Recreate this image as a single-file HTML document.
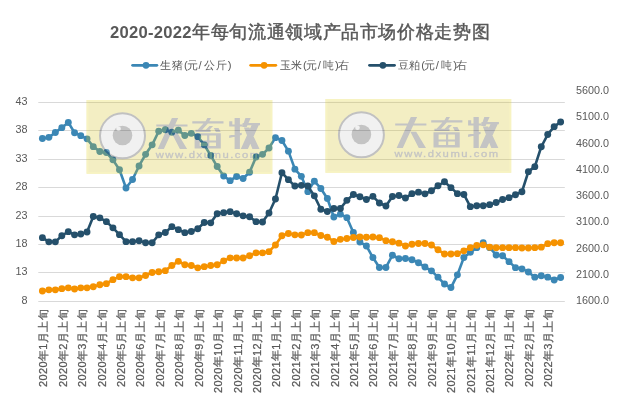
<!DOCTYPE html>
<html><head><meta charset="utf-8"><style>
html,body{margin:0;padding:0;background:#fff;width:619px;height:404px;overflow:hidden}
svg{display:block;will-change:transform;font-family:"Liberation Sans",sans-serif}
.ax{font-size:10.8px;fill:#595959}
.xl{font-size:11px;fill:#595959;stroke:#595959;stroke-width:0.25px}
.leg{font-size:11.3px;fill:#595959}
.title{font-size:18.4px;font-weight:bold;fill:#595959}
</style></head><body>
<svg width="619" height="404" viewBox="0 0 619 404">
<defs><filter id="soft" x="-5%" y="-5%" width="110%" height="110%"><feGaussianBlur stdDeviation="0.6"/></filter></defs><rect width="619" height="404" fill="#fff"/>
<line x1="38.3" x2="564.8" y1="102.50" y2="102.50" stroke="#D9D9D9" stroke-width="1"/><line x1="38.3" x2="564.8" y1="130.50" y2="130.50" stroke="#D9D9D9" stroke-width="1"/><line x1="38.3" x2="564.8" y1="159.50" y2="159.50" stroke="#D9D9D9" stroke-width="1"/><line x1="38.3" x2="564.8" y1="187.50" y2="187.50" stroke="#D9D9D9" stroke-width="1"/><line x1="38.3" x2="564.8" y1="216.50" y2="216.50" stroke="#D9D9D9" stroke-width="1"/><line x1="38.3" x2="564.8" y1="244.50" y2="244.50" stroke="#D9D9D9" stroke-width="1"/><line x1="38.3" x2="564.8" y1="272.50" y2="272.50" stroke="#D9D9D9" stroke-width="1"/><line x1="38.3" x2="564.8" y1="301.50" y2="301.50" stroke="#D9D9D9" stroke-width="1"/><polyline points="42.40,138.45 48.87,137.35 55.35,132.55 61.82,127.65 68.30,122.45 74.55,132.75 80.79,135.65 87.04,138.85 93.29,146.65 99.84,151.45 106.39,152.55 112.94,159.85 119.49,169.75 126.01,188.05 132.54,179.55 139.06,165.95 145.58,154.35 152.16,144.85 158.73,131.25 165.31,129.75 171.88,132.25 178.35,130.15 184.83,135.45 191.30,133.35 197.78,136.65 204.25,144.85 210.72,155.45 217.20,166.55 223.67,176.05 230.15,180.65 236.62,176.45 243.09,178.55 249.57,172.25 256.04,157.05 262.52,154.35 268.99,148.05 275.46,137.65 281.94,140.55 288.41,151.15 294.89,169.15 301.36,176.35 307.83,191.65 314.34,181.15 320.85,188.45 327.36,198.55 333.86,217.05 340.37,214.15 346.88,217.65 353.39,232.45 359.89,242.05 366.40,245.95 372.91,257.55 379.41,267.45 385.92,267.45 392.43,255.25 398.94,258.75 405.44,258.45 411.95,259.75 418.46,262.75 424.97,267.05 431.47,270.85 437.98,277.15 444.49,284.05 450.95,287.55 457.40,274.85 463.86,257.55 470.32,252.35 476.77,247.65 483.23,242.75 489.68,247.65 496.13,254.95 502.58,255.75 509.03,261.65 515.48,267.65 521.93,268.85 528.38,271.95 534.82,277.15 541.27,275.75 547.72,277.15 554.17,280.05 560.62,277.45" fill="none" stroke="#3B87B5" stroke-width="2.6" stroke-linejoin="round"/><circle cx="42.40" cy="138.45" r="3.45" fill="#3B87B5"/><circle cx="48.87" cy="137.35" r="3.45" fill="#3B87B5"/><circle cx="55.35" cy="132.55" r="3.45" fill="#3B87B5"/><circle cx="61.82" cy="127.65" r="3.45" fill="#3B87B5"/><circle cx="68.30" cy="122.45" r="3.45" fill="#3B87B5"/><circle cx="74.55" cy="132.75" r="3.45" fill="#3B87B5"/><circle cx="80.79" cy="135.65" r="3.45" fill="#3B87B5"/><circle cx="87.04" cy="138.85" r="3.45" fill="#3B87B5"/><circle cx="93.29" cy="146.65" r="3.45" fill="#3B87B5"/><circle cx="99.84" cy="151.45" r="3.45" fill="#3B87B5"/><circle cx="106.39" cy="152.55" r="3.45" fill="#3B87B5"/><circle cx="112.94" cy="159.85" r="3.45" fill="#3B87B5"/><circle cx="119.49" cy="169.75" r="3.45" fill="#3B87B5"/><circle cx="126.01" cy="188.05" r="3.45" fill="#3B87B5"/><circle cx="132.54" cy="179.55" r="3.45" fill="#3B87B5"/><circle cx="139.06" cy="165.95" r="3.45" fill="#3B87B5"/><circle cx="145.58" cy="154.35" r="3.45" fill="#3B87B5"/><circle cx="152.16" cy="144.85" r="3.45" fill="#3B87B5"/><circle cx="158.73" cy="131.25" r="3.45" fill="#3B87B5"/><circle cx="165.31" cy="129.75" r="3.45" fill="#3B87B5"/><circle cx="171.88" cy="132.25" r="3.45" fill="#3B87B5"/><circle cx="178.35" cy="130.15" r="3.45" fill="#3B87B5"/><circle cx="184.83" cy="135.45" r="3.45" fill="#3B87B5"/><circle cx="191.30" cy="133.35" r="3.45" fill="#3B87B5"/><circle cx="197.78" cy="136.65" r="3.45" fill="#3B87B5"/><circle cx="204.25" cy="144.85" r="3.45" fill="#3B87B5"/><circle cx="210.72" cy="155.45" r="3.45" fill="#3B87B5"/><circle cx="217.20" cy="166.55" r="3.45" fill="#3B87B5"/><circle cx="223.67" cy="176.05" r="3.45" fill="#3B87B5"/><circle cx="230.15" cy="180.65" r="3.45" fill="#3B87B5"/><circle cx="236.62" cy="176.45" r="3.45" fill="#3B87B5"/><circle cx="243.09" cy="178.55" r="3.45" fill="#3B87B5"/><circle cx="249.57" cy="172.25" r="3.45" fill="#3B87B5"/><circle cx="256.04" cy="157.05" r="3.45" fill="#3B87B5"/><circle cx="262.52" cy="154.35" r="3.45" fill="#3B87B5"/><circle cx="268.99" cy="148.05" r="3.45" fill="#3B87B5"/><circle cx="275.46" cy="137.65" r="3.45" fill="#3B87B5"/><circle cx="281.94" cy="140.55" r="3.45" fill="#3B87B5"/><circle cx="288.41" cy="151.15" r="3.45" fill="#3B87B5"/><circle cx="294.89" cy="169.15" r="3.45" fill="#3B87B5"/><circle cx="301.36" cy="176.35" r="3.45" fill="#3B87B5"/><circle cx="307.83" cy="191.65" r="3.45" fill="#3B87B5"/><circle cx="314.34" cy="181.15" r="3.45" fill="#3B87B5"/><circle cx="320.85" cy="188.45" r="3.45" fill="#3B87B5"/><circle cx="327.36" cy="198.55" r="3.45" fill="#3B87B5"/><circle cx="333.86" cy="217.05" r="3.45" fill="#3B87B5"/><circle cx="340.37" cy="214.15" r="3.45" fill="#3B87B5"/><circle cx="346.88" cy="217.65" r="3.45" fill="#3B87B5"/><circle cx="353.39" cy="232.45" r="3.45" fill="#3B87B5"/><circle cx="359.89" cy="242.05" r="3.45" fill="#3B87B5"/><circle cx="366.40" cy="245.95" r="3.45" fill="#3B87B5"/><circle cx="372.91" cy="257.55" r="3.45" fill="#3B87B5"/><circle cx="379.41" cy="267.45" r="3.45" fill="#3B87B5"/><circle cx="385.92" cy="267.45" r="3.45" fill="#3B87B5"/><circle cx="392.43" cy="255.25" r="3.45" fill="#3B87B5"/><circle cx="398.94" cy="258.75" r="3.45" fill="#3B87B5"/><circle cx="405.44" cy="258.45" r="3.45" fill="#3B87B5"/><circle cx="411.95" cy="259.75" r="3.45" fill="#3B87B5"/><circle cx="418.46" cy="262.75" r="3.45" fill="#3B87B5"/><circle cx="424.97" cy="267.05" r="3.45" fill="#3B87B5"/><circle cx="431.47" cy="270.85" r="3.45" fill="#3B87B5"/><circle cx="437.98" cy="277.15" r="3.45" fill="#3B87B5"/><circle cx="444.49" cy="284.05" r="3.45" fill="#3B87B5"/><circle cx="450.95" cy="287.55" r="3.45" fill="#3B87B5"/><circle cx="457.40" cy="274.85" r="3.45" fill="#3B87B5"/><circle cx="463.86" cy="257.55" r="3.45" fill="#3B87B5"/><circle cx="470.32" cy="252.35" r="3.45" fill="#3B87B5"/><circle cx="476.77" cy="247.65" r="3.45" fill="#3B87B5"/><circle cx="483.23" cy="242.75" r="3.45" fill="#3B87B5"/><circle cx="489.68" cy="247.65" r="3.45" fill="#3B87B5"/><circle cx="496.13" cy="254.95" r="3.45" fill="#3B87B5"/><circle cx="502.58" cy="255.75" r="3.45" fill="#3B87B5"/><circle cx="509.03" cy="261.65" r="3.45" fill="#3B87B5"/><circle cx="515.48" cy="267.65" r="3.45" fill="#3B87B5"/><circle cx="521.93" cy="268.85" r="3.45" fill="#3B87B5"/><circle cx="528.38" cy="271.95" r="3.45" fill="#3B87B5"/><circle cx="534.82" cy="277.15" r="3.45" fill="#3B87B5"/><circle cx="541.27" cy="275.75" r="3.45" fill="#3B87B5"/><circle cx="547.72" cy="277.15" r="3.45" fill="#3B87B5"/><circle cx="554.17" cy="280.05" r="3.45" fill="#3B87B5"/><circle cx="560.62" cy="277.45" r="3.45" fill="#3B87B5"/><polyline points="42.40,290.95 48.87,289.85 55.35,289.85 61.82,288.65 68.30,287.85 74.55,289.05 80.79,287.85 87.04,287.85 93.29,286.75 99.84,284.75 106.39,283.65 112.94,279.65 119.49,276.65 126.01,276.65 132.54,277.85 139.06,277.85 145.58,275.55 152.16,272.55 158.73,271.75 165.31,270.65 171.88,265.55 178.35,261.35 184.83,264.75 191.30,265.55 197.78,267.85 204.25,266.65 210.72,265.55 217.20,264.75 223.67,260.85 230.15,257.85 236.62,258.05 243.09,258.05 249.57,255.75 256.04,252.85 262.52,252.85 268.99,251.65 275.46,244.95 281.94,235.75 288.41,233.45 294.89,234.85 301.36,234.95 307.83,232.65 314.34,232.65 320.85,235.55 327.36,237.25 333.86,241.45 340.37,239.35 346.88,238.45 353.39,237.45 359.89,236.95 366.40,237.25 372.91,237.05 379.41,237.65 385.92,240.65 392.43,241.75 398.94,243.15 405.44,245.95 411.95,244.25 418.46,243.45 424.97,243.45 431.47,244.95 437.98,249.75 444.49,254.05 450.95,254.05 457.40,253.65 463.86,250.85 470.32,247.65 476.77,245.35 483.23,244.85 489.68,247.15 496.13,247.65 502.58,247.65 509.03,247.65 515.48,247.65 521.93,247.95 528.38,247.95 534.82,247.65 541.27,247.15 547.72,243.65 554.17,242.75 560.62,242.75" fill="none" stroke="#F59200" stroke-width="2.6" stroke-linejoin="round"/><circle cx="42.40" cy="290.95" r="3.45" fill="#F59200"/><circle cx="48.87" cy="289.85" r="3.45" fill="#F59200"/><circle cx="55.35" cy="289.85" r="3.45" fill="#F59200"/><circle cx="61.82" cy="288.65" r="3.45" fill="#F59200"/><circle cx="68.30" cy="287.85" r="3.45" fill="#F59200"/><circle cx="74.55" cy="289.05" r="3.45" fill="#F59200"/><circle cx="80.79" cy="287.85" r="3.45" fill="#F59200"/><circle cx="87.04" cy="287.85" r="3.45" fill="#F59200"/><circle cx="93.29" cy="286.75" r="3.45" fill="#F59200"/><circle cx="99.84" cy="284.75" r="3.45" fill="#F59200"/><circle cx="106.39" cy="283.65" r="3.45" fill="#F59200"/><circle cx="112.94" cy="279.65" r="3.45" fill="#F59200"/><circle cx="119.49" cy="276.65" r="3.45" fill="#F59200"/><circle cx="126.01" cy="276.65" r="3.45" fill="#F59200"/><circle cx="132.54" cy="277.85" r="3.45" fill="#F59200"/><circle cx="139.06" cy="277.85" r="3.45" fill="#F59200"/><circle cx="145.58" cy="275.55" r="3.45" fill="#F59200"/><circle cx="152.16" cy="272.55" r="3.45" fill="#F59200"/><circle cx="158.73" cy="271.75" r="3.45" fill="#F59200"/><circle cx="165.31" cy="270.65" r="3.45" fill="#F59200"/><circle cx="171.88" cy="265.55" r="3.45" fill="#F59200"/><circle cx="178.35" cy="261.35" r="3.45" fill="#F59200"/><circle cx="184.83" cy="264.75" r="3.45" fill="#F59200"/><circle cx="191.30" cy="265.55" r="3.45" fill="#F59200"/><circle cx="197.78" cy="267.85" r="3.45" fill="#F59200"/><circle cx="204.25" cy="266.65" r="3.45" fill="#F59200"/><circle cx="210.72" cy="265.55" r="3.45" fill="#F59200"/><circle cx="217.20" cy="264.75" r="3.45" fill="#F59200"/><circle cx="223.67" cy="260.85" r="3.45" fill="#F59200"/><circle cx="230.15" cy="257.85" r="3.45" fill="#F59200"/><circle cx="236.62" cy="258.05" r="3.45" fill="#F59200"/><circle cx="243.09" cy="258.05" r="3.45" fill="#F59200"/><circle cx="249.57" cy="255.75" r="3.45" fill="#F59200"/><circle cx="256.04" cy="252.85" r="3.45" fill="#F59200"/><circle cx="262.52" cy="252.85" r="3.45" fill="#F59200"/><circle cx="268.99" cy="251.65" r="3.45" fill="#F59200"/><circle cx="275.46" cy="244.95" r="3.45" fill="#F59200"/><circle cx="281.94" cy="235.75" r="3.45" fill="#F59200"/><circle cx="288.41" cy="233.45" r="3.45" fill="#F59200"/><circle cx="294.89" cy="234.85" r="3.45" fill="#F59200"/><circle cx="301.36" cy="234.95" r="3.45" fill="#F59200"/><circle cx="307.83" cy="232.65" r="3.45" fill="#F59200"/><circle cx="314.34" cy="232.65" r="3.45" fill="#F59200"/><circle cx="320.85" cy="235.55" r="3.45" fill="#F59200"/><circle cx="327.36" cy="237.25" r="3.45" fill="#F59200"/><circle cx="333.86" cy="241.45" r="3.45" fill="#F59200"/><circle cx="340.37" cy="239.35" r="3.45" fill="#F59200"/><circle cx="346.88" cy="238.45" r="3.45" fill="#F59200"/><circle cx="353.39" cy="237.45" r="3.45" fill="#F59200"/><circle cx="359.89" cy="236.95" r="3.45" fill="#F59200"/><circle cx="366.40" cy="237.25" r="3.45" fill="#F59200"/><circle cx="372.91" cy="237.05" r="3.45" fill="#F59200"/><circle cx="379.41" cy="237.65" r="3.45" fill="#F59200"/><circle cx="385.92" cy="240.65" r="3.45" fill="#F59200"/><circle cx="392.43" cy="241.75" r="3.45" fill="#F59200"/><circle cx="398.94" cy="243.15" r="3.45" fill="#F59200"/><circle cx="405.44" cy="245.95" r="3.45" fill="#F59200"/><circle cx="411.95" cy="244.25" r="3.45" fill="#F59200"/><circle cx="418.46" cy="243.45" r="3.45" fill="#F59200"/><circle cx="424.97" cy="243.45" r="3.45" fill="#F59200"/><circle cx="431.47" cy="244.95" r="3.45" fill="#F59200"/><circle cx="437.98" cy="249.75" r="3.45" fill="#F59200"/><circle cx="444.49" cy="254.05" r="3.45" fill="#F59200"/><circle cx="450.95" cy="254.05" r="3.45" fill="#F59200"/><circle cx="457.40" cy="253.65" r="3.45" fill="#F59200"/><circle cx="463.86" cy="250.85" r="3.45" fill="#F59200"/><circle cx="470.32" cy="247.65" r="3.45" fill="#F59200"/><circle cx="476.77" cy="245.35" r="3.45" fill="#F59200"/><circle cx="483.23" cy="244.85" r="3.45" fill="#F59200"/><circle cx="489.68" cy="247.15" r="3.45" fill="#F59200"/><circle cx="496.13" cy="247.65" r="3.45" fill="#F59200"/><circle cx="502.58" cy="247.65" r="3.45" fill="#F59200"/><circle cx="509.03" cy="247.65" r="3.45" fill="#F59200"/><circle cx="515.48" cy="247.65" r="3.45" fill="#F59200"/><circle cx="521.93" cy="247.95" r="3.45" fill="#F59200"/><circle cx="528.38" cy="247.95" r="3.45" fill="#F59200"/><circle cx="534.82" cy="247.65" r="3.45" fill="#F59200"/><circle cx="541.27" cy="247.15" r="3.45" fill="#F59200"/><circle cx="547.72" cy="243.65" r="3.45" fill="#F59200"/><circle cx="554.17" cy="242.75" r="3.45" fill="#F59200"/><circle cx="560.62" cy="242.75" r="3.45" fill="#F59200"/><polyline points="42.40,237.65 48.87,241.85 55.35,241.85 61.82,235.75 68.30,231.65 74.55,234.85 80.79,233.95 87.04,232.05 93.29,216.55 99.84,217.85 106.39,221.65 112.94,227.85 119.49,234.65 126.01,241.65 132.54,241.65 139.06,240.75 145.58,242.75 152.16,242.75 158.73,234.85 165.31,232.55 171.88,226.65 178.35,229.65 184.83,232.65 191.30,231.55 197.78,228.75 204.25,222.55 210.72,222.85 217.20,213.75 223.67,212.65 230.15,211.65 236.62,213.75 243.09,215.85 249.57,216.75 256.04,221.65 262.52,222.05 268.99,212.95 275.46,198.95 281.94,172.75 288.41,179.65 294.89,186.05 301.36,185.35 307.83,186.05 314.34,195.85 320.85,209.25 327.36,211.45 333.86,208.45 340.37,208.45 346.88,200.35 353.39,194.55 359.89,196.75 366.40,199.55 372.91,196.35 379.41,202.95 385.92,205.95 392.43,196.55 398.94,195.55 405.44,198.05 411.95,193.65 418.46,192.15 424.97,193.85 431.47,190.75 437.98,185.75 444.49,181.75 450.95,187.65 457.40,193.65 463.86,194.45 470.32,206.65 476.77,205.75 483.23,205.75 489.68,204.65 496.13,202.45 502.58,199.45 509.03,197.65 515.48,194.75 521.93,191.75 528.38,171.65 534.82,166.65 541.27,146.75 547.72,134.55 554.17,126.65 560.62,121.95" fill="none" stroke="#25506B" stroke-width="2.6" stroke-linejoin="round"/><circle cx="42.40" cy="237.65" r="3.45" fill="#25506B"/><circle cx="48.87" cy="241.85" r="3.45" fill="#25506B"/><circle cx="55.35" cy="241.85" r="3.45" fill="#25506B"/><circle cx="61.82" cy="235.75" r="3.45" fill="#25506B"/><circle cx="68.30" cy="231.65" r="3.45" fill="#25506B"/><circle cx="74.55" cy="234.85" r="3.45" fill="#25506B"/><circle cx="80.79" cy="233.95" r="3.45" fill="#25506B"/><circle cx="87.04" cy="232.05" r="3.45" fill="#25506B"/><circle cx="93.29" cy="216.55" r="3.45" fill="#25506B"/><circle cx="99.84" cy="217.85" r="3.45" fill="#25506B"/><circle cx="106.39" cy="221.65" r="3.45" fill="#25506B"/><circle cx="112.94" cy="227.85" r="3.45" fill="#25506B"/><circle cx="119.49" cy="234.65" r="3.45" fill="#25506B"/><circle cx="126.01" cy="241.65" r="3.45" fill="#25506B"/><circle cx="132.54" cy="241.65" r="3.45" fill="#25506B"/><circle cx="139.06" cy="240.75" r="3.45" fill="#25506B"/><circle cx="145.58" cy="242.75" r="3.45" fill="#25506B"/><circle cx="152.16" cy="242.75" r="3.45" fill="#25506B"/><circle cx="158.73" cy="234.85" r="3.45" fill="#25506B"/><circle cx="165.31" cy="232.55" r="3.45" fill="#25506B"/><circle cx="171.88" cy="226.65" r="3.45" fill="#25506B"/><circle cx="178.35" cy="229.65" r="3.45" fill="#25506B"/><circle cx="184.83" cy="232.65" r="3.45" fill="#25506B"/><circle cx="191.30" cy="231.55" r="3.45" fill="#25506B"/><circle cx="197.78" cy="228.75" r="3.45" fill="#25506B"/><circle cx="204.25" cy="222.55" r="3.45" fill="#25506B"/><circle cx="210.72" cy="222.85" r="3.45" fill="#25506B"/><circle cx="217.20" cy="213.75" r="3.45" fill="#25506B"/><circle cx="223.67" cy="212.65" r="3.45" fill="#25506B"/><circle cx="230.15" cy="211.65" r="3.45" fill="#25506B"/><circle cx="236.62" cy="213.75" r="3.45" fill="#25506B"/><circle cx="243.09" cy="215.85" r="3.45" fill="#25506B"/><circle cx="249.57" cy="216.75" r="3.45" fill="#25506B"/><circle cx="256.04" cy="221.65" r="3.45" fill="#25506B"/><circle cx="262.52" cy="222.05" r="3.45" fill="#25506B"/><circle cx="268.99" cy="212.95" r="3.45" fill="#25506B"/><circle cx="275.46" cy="198.95" r="3.45" fill="#25506B"/><circle cx="281.94" cy="172.75" r="3.45" fill="#25506B"/><circle cx="288.41" cy="179.65" r="3.45" fill="#25506B"/><circle cx="294.89" cy="186.05" r="3.45" fill="#25506B"/><circle cx="301.36" cy="185.35" r="3.45" fill="#25506B"/><circle cx="307.83" cy="186.05" r="3.45" fill="#25506B"/><circle cx="314.34" cy="195.85" r="3.45" fill="#25506B"/><circle cx="320.85" cy="209.25" r="3.45" fill="#25506B"/><circle cx="327.36" cy="211.45" r="3.45" fill="#25506B"/><circle cx="333.86" cy="208.45" r="3.45" fill="#25506B"/><circle cx="340.37" cy="208.45" r="3.45" fill="#25506B"/><circle cx="346.88" cy="200.35" r="3.45" fill="#25506B"/><circle cx="353.39" cy="194.55" r="3.45" fill="#25506B"/><circle cx="359.89" cy="196.75" r="3.45" fill="#25506B"/><circle cx="366.40" cy="199.55" r="3.45" fill="#25506B"/><circle cx="372.91" cy="196.35" r="3.45" fill="#25506B"/><circle cx="379.41" cy="202.95" r="3.45" fill="#25506B"/><circle cx="385.92" cy="205.95" r="3.45" fill="#25506B"/><circle cx="392.43" cy="196.55" r="3.45" fill="#25506B"/><circle cx="398.94" cy="195.55" r="3.45" fill="#25506B"/><circle cx="405.44" cy="198.05" r="3.45" fill="#25506B"/><circle cx="411.95" cy="193.65" r="3.45" fill="#25506B"/><circle cx="418.46" cy="192.15" r="3.45" fill="#25506B"/><circle cx="424.97" cy="193.85" r="3.45" fill="#25506B"/><circle cx="431.47" cy="190.75" r="3.45" fill="#25506B"/><circle cx="437.98" cy="185.75" r="3.45" fill="#25506B"/><circle cx="444.49" cy="181.75" r="3.45" fill="#25506B"/><circle cx="450.95" cy="187.65" r="3.45" fill="#25506B"/><circle cx="457.40" cy="193.65" r="3.45" fill="#25506B"/><circle cx="463.86" cy="194.45" r="3.45" fill="#25506B"/><circle cx="470.32" cy="206.65" r="3.45" fill="#25506B"/><circle cx="476.77" cy="205.75" r="3.45" fill="#25506B"/><circle cx="483.23" cy="205.75" r="3.45" fill="#25506B"/><circle cx="489.68" cy="204.65" r="3.45" fill="#25506B"/><circle cx="496.13" cy="202.45" r="3.45" fill="#25506B"/><circle cx="502.58" cy="199.45" r="3.45" fill="#25506B"/><circle cx="509.03" cy="197.65" r="3.45" fill="#25506B"/><circle cx="515.48" cy="194.75" r="3.45" fill="#25506B"/><circle cx="521.93" cy="191.75" r="3.45" fill="#25506B"/><circle cx="528.38" cy="171.65" r="3.45" fill="#25506B"/><circle cx="534.82" cy="166.65" r="3.45" fill="#25506B"/><circle cx="541.27" cy="146.75" r="3.45" fill="#25506B"/><circle cx="547.72" cy="134.55" r="3.45" fill="#25506B"/><circle cx="554.17" cy="126.65" r="3.45" fill="#25506B"/><circle cx="560.62" cy="121.95" r="3.45" fill="#25506B"/><g opacity="0.26"><rect x="86.6" y="100.0" width="185.7" height="73.8" fill="rgb(212,193,30)" filter="url(#soft)"/><rect x="87.50" y="100.90" width="183.90" height="72.00" fill="none" stroke="rgb(228,212,24)" stroke-width="1.8" filter="url(#soft)"/><circle cx="122.50" cy="135.80" r="22.5" fill="rgb(205,205,205)" stroke="rgb(20,20,20)" stroke-width="2.0"/><circle cx="122.50" cy="135.50" r="9.8" fill="rgb(30,30,30)"/><circle cx="118.60" cy="128.70" r="2.3" fill="rgb(205,205,205)"/><path d="M156.30,124.40 L187.50,124.40 L187.50,126.60 L156.30,126.60Z M171.90,118.10 L178.20,118.10 L163.90,148.90 L157.70,148.90Z M171.50,132.80 L177.30,132.80 L187.10,148.90 L179.90,148.90Z M207.40,118.10 L211.10,118.10 L209.10,121.40 L205.40,121.40Z M192.30,121.20 L223.50,121.20 L223.50,123.50 L192.30,123.50Z M203.50,123.50 L207.90,123.50 L200.10,131.90 L195.50,131.90Z M195.50,129.80 L210.60,129.80 L210.60,131.90 L195.50,131.90Z M209.50,126.00 L213.10,126.00 L208.70,130.50 L205.10,130.50Z M213.90,128.00 L218.50,128.00 L220.70,132.00 L215.90,132.00Z M194.60,133.30 L220.80,133.30 L220.80,135.50 L194.60,135.50Z M194.60,146.00 L220.80,146.00 L220.80,148.40 L194.60,148.40Z M194.60,133.30 L199.70,133.30 L199.70,148.40 L194.60,148.40Z M216.00,133.30 L220.80,133.30 L220.80,148.40 L216.00,148.40Z M207.10,133.30 L209.30,133.30 L209.30,148.40 L207.10,148.40Z M194.60,140.40 L220.80,140.40 L220.80,142.60 L194.60,142.60Z M234.60,118.10 L239.90,118.10 L239.90,148.90 L234.60,148.90Z M229.20,121.20 L232.30,121.20 L232.30,126.60 L229.20,126.60Z M229.20,124.40 L242.60,124.40 L242.60,126.60 L229.20,126.60Z M229.20,135.60 L241.70,132.70 L241.70,135.00 L229.20,137.90Z M245.40,118.10 L250.70,118.10 L246.70,127.00 L242.40,127.00Z M242.60,123.00 L260.00,123.00 L260.00,125.20 L242.60,125.20Z M251.90,124.40 L259.10,124.40 L247.90,148.90 L240.80,148.90Z M243.90,127.50 L249.30,127.50 L259.50,148.90 L252.40,148.90Z" fill="rgb(30,30,30)"/><text transform="translate(155.70,158.10) scale(1.15,1)" font-size="9.8" fill="rgb(30,30,30)" stroke="rgb(30,30,30)" stroke-width="0.35" textLength="90.0" lengthAdjust="spacing">www.dxumu.com</text></g><g opacity="0.26"><rect x="325.5" y="99.0" width="185.7" height="73.8" fill="rgb(212,193,30)" filter="url(#soft)"/><rect x="326.40" y="99.90" width="183.90" height="72.00" fill="none" stroke="rgb(228,212,24)" stroke-width="1.8" filter="url(#soft)"/><circle cx="361.40" cy="134.80" r="22.5" fill="rgb(205,205,205)" stroke="rgb(20,20,20)" stroke-width="2.0"/><circle cx="361.40" cy="134.50" r="9.8" fill="rgb(30,30,30)"/><circle cx="357.50" cy="127.70" r="2.3" fill="rgb(205,205,205)"/><path d="M395.20,123.40 L426.40,123.40 L426.40,125.60 L395.20,125.60Z M410.80,117.10 L417.10,117.10 L402.80,147.90 L396.60,147.90Z M410.40,131.80 L416.20,131.80 L426.00,147.90 L418.80,147.90Z M446.30,117.10 L450.00,117.10 L448.00,120.40 L444.30,120.40Z M431.20,120.20 L462.40,120.20 L462.40,122.50 L431.20,122.50Z M442.40,122.50 L446.80,122.50 L439.00,130.90 L434.40,130.90Z M434.40,128.80 L449.50,128.80 L449.50,130.90 L434.40,130.90Z M448.40,125.00 L452.00,125.00 L447.60,129.50 L444.00,129.50Z M452.80,127.00 L457.40,127.00 L459.60,131.00 L454.80,131.00Z M433.50,132.30 L459.70,132.30 L459.70,134.50 L433.50,134.50Z M433.50,145.00 L459.70,145.00 L459.70,147.40 L433.50,147.40Z M433.50,132.30 L438.60,132.30 L438.60,147.40 L433.50,147.40Z M454.90,132.30 L459.70,132.30 L459.70,147.40 L454.90,147.40Z M446.00,132.30 L448.20,132.30 L448.20,147.40 L446.00,147.40Z M433.50,139.40 L459.70,139.40 L459.70,141.60 L433.50,141.60Z M473.50,117.10 L478.80,117.10 L478.80,147.90 L473.50,147.90Z M468.10,120.20 L471.20,120.20 L471.20,125.60 L468.10,125.60Z M468.10,123.40 L481.50,123.40 L481.50,125.60 L468.10,125.60Z M468.10,134.60 L480.60,131.70 L480.60,134.00 L468.10,136.90Z M484.30,117.10 L489.60,117.10 L485.60,126.00 L481.30,126.00Z M481.50,122.00 L498.90,122.00 L498.90,124.20 L481.50,124.20Z M490.80,123.40 L498.00,123.40 L486.80,147.90 L479.70,147.90Z M482.80,126.50 L488.20,126.50 L498.40,147.90 L491.30,147.90Z" fill="rgb(30,30,30)"/><text transform="translate(394.60,157.10) scale(1.15,1)" font-size="9.8" fill="rgb(30,30,30)" stroke="rgb(30,30,30)" stroke-width="0.35" textLength="90.0" lengthAdjust="spacing">www.dxumu.com</text></g><text x="27.6" y="104.70" text-anchor="end" class="ax">43</text><text x="27.6" y="132.70" text-anchor="end" class="ax">38</text><text x="27.6" y="161.70" text-anchor="end" class="ax">33</text><text x="27.6" y="189.70" text-anchor="end" class="ax">28</text><text x="27.6" y="218.70" text-anchor="end" class="ax">23</text><text x="27.6" y="246.70" text-anchor="end" class="ax">18</text><text x="27.6" y="274.70" text-anchor="end" class="ax">13</text><text x="27.6" y="303.70" text-anchor="end" class="ax">8</text><text x="575.9" y="94.10" class="ax">5600.0</text><text x="575.9" y="120.34" class="ax">5100.0</text><text x="575.9" y="146.57" class="ax">4600.0</text><text x="575.9" y="172.81" class="ax">4100.0</text><text x="575.9" y="199.05" class="ax">3600.0</text><text x="575.9" y="225.29" class="ax">3100.0</text><text x="575.9" y="251.53" class="ax">2600.0</text><text x="575.9" y="277.76" class="ax">2100.0</text><text x="575.9" y="304.00" class="ax">1600.0</text><text transform="translate(47.30,387.00) rotate(-90)" class="xl" textLength="77.6" lengthAdjust="spacing">2020年1月上旬</text><text transform="translate(66.72,387.00) rotate(-90)" class="xl" textLength="77.6" lengthAdjust="spacing">2020年2月上旬</text><text transform="translate(86.14,387.00) rotate(-90)" class="xl" textLength="77.6" lengthAdjust="spacing">2020年3月上旬</text><text transform="translate(105.57,387.00) rotate(-90)" class="xl" textLength="77.6" lengthAdjust="spacing">2020年4月上旬</text><text transform="translate(124.99,387.00) rotate(-90)" class="xl" textLength="77.6" lengthAdjust="spacing">2020年5月上旬</text><text transform="translate(144.41,387.00) rotate(-90)" class="xl" textLength="77.6" lengthAdjust="spacing">2020年6月上旬</text><text transform="translate(163.83,387.00) rotate(-90)" class="xl" textLength="77.6" lengthAdjust="spacing">2020年7月上旬</text><text transform="translate(183.25,387.00) rotate(-90)" class="xl" textLength="77.6" lengthAdjust="spacing">2020年8月上旬</text><text transform="translate(202.68,387.00) rotate(-90)" class="xl" textLength="77.6" lengthAdjust="spacing">2020年9月上旬</text><text transform="translate(222.10,393.00) rotate(-90)" class="xl" textLength="83.6" lengthAdjust="spacing">2020年10月上旬</text><text transform="translate(241.52,393.00) rotate(-90)" class="xl" textLength="83.6" lengthAdjust="spacing">2020年11月上旬</text><text transform="translate(260.94,393.00) rotate(-90)" class="xl" textLength="83.6" lengthAdjust="spacing">2020年12月上旬</text><text transform="translate(280.36,387.00) rotate(-90)" class="xl" textLength="77.6" lengthAdjust="spacing">2021年1月上旬</text><text transform="translate(299.79,387.00) rotate(-90)" class="xl" textLength="77.6" lengthAdjust="spacing">2021年2月上旬</text><text transform="translate(319.21,387.00) rotate(-90)" class="xl" textLength="77.6" lengthAdjust="spacing">2021年3月上旬</text><text transform="translate(338.63,387.00) rotate(-90)" class="xl" textLength="77.6" lengthAdjust="spacing">2021年4月上旬</text><text transform="translate(358.05,387.00) rotate(-90)" class="xl" textLength="77.6" lengthAdjust="spacing">2021年5月上旬</text><text transform="translate(377.47,387.00) rotate(-90)" class="xl" textLength="77.6" lengthAdjust="spacing">2021年6月上旬</text><text transform="translate(396.90,387.00) rotate(-90)" class="xl" textLength="77.6" lengthAdjust="spacing">2021年7月上旬</text><text transform="translate(416.32,387.00) rotate(-90)" class="xl" textLength="77.6" lengthAdjust="spacing">2021年8月上旬</text><text transform="translate(435.74,387.00) rotate(-90)" class="xl" textLength="77.6" lengthAdjust="spacing">2021年9月上旬</text><text transform="translate(455.16,393.00) rotate(-90)" class="xl" textLength="83.6" lengthAdjust="spacing">2021年10月上旬</text><text transform="translate(474.58,393.00) rotate(-90)" class="xl" textLength="83.6" lengthAdjust="spacing">2021年11月上旬</text><text transform="translate(494.01,393.00) rotate(-90)" class="xl" textLength="83.6" lengthAdjust="spacing">2021年12月上旬</text><text transform="translate(513.43,387.00) rotate(-90)" class="xl" textLength="77.6" lengthAdjust="spacing">2022年1月上旬</text><text transform="translate(532.85,387.00) rotate(-90)" class="xl" textLength="77.6" lengthAdjust="spacing">2022年2月上旬</text><text transform="translate(552.27,387.00) rotate(-90)" class="xl" textLength="77.6" lengthAdjust="spacing">2022年3月上旬</text><text x="110" y="38.0" class="title" style="font-size:16.6px" textLength="81.6" lengthAdjust="spacing">2020-2022</text><text x="192.1" y="38.0" class="title" style="font-weight:500;stroke:#595959;stroke-width:0.45px" textLength="297.5" lengthAdjust="spacing">年每旬流通领域产品市场价格走势图</text><line x1="132.6" x2="156.9" y1="65.3" y2="65.3" stroke="#3B87B5" stroke-width="2.8" stroke-linecap="round"/><circle cx="146.00" cy="65.3" r="3.4" fill="#3B87B5"/><text x="160.40 172.15 183.90 186.70 198.45 204.15 215.90 227.65" y="69.3" class="leg">生猪(元/公斤)</text><line x1="250.70000000000002" x2="275.8" y1="65.3" y2="65.3" stroke="#F59200" stroke-width="2.8" stroke-linecap="round"/><circle cx="264.10" cy="65.3" r="3.4" fill="#F59200"/><text x="279.60 291.35 303.10 305.90 317.65 323.35 335.10 338.00" y="69.3" class="leg">玉米(元/吨)右</text><line x1="369.5" x2="394.5" y1="65.3" y2="65.3" stroke="#25506B" stroke-width="2.8" stroke-linecap="round"/><circle cx="382.90" cy="65.3" r="3.4" fill="#25506B"/><text x="397.70 409.45 421.20 424.00 435.75 441.45 453.20 456.10" y="69.3" class="leg">豆粕(元/吨)右</text>
</svg></body></html>
